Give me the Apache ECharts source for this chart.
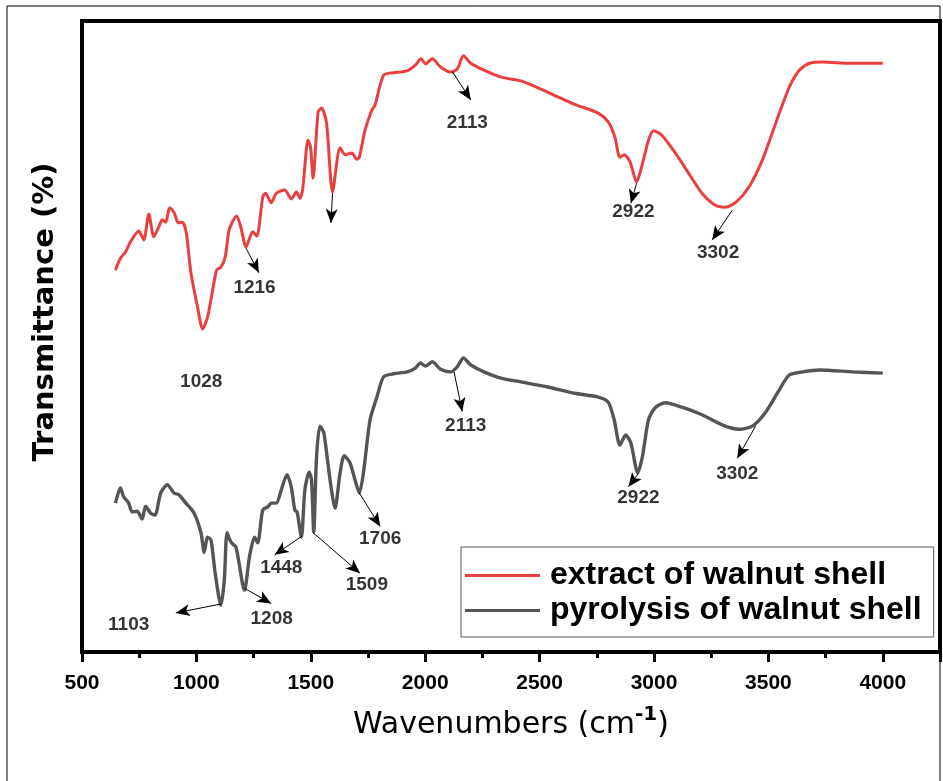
<!DOCTYPE html>
<html>
<head>
<meta charset="utf-8">
<script src="https://cdn.jsdelivr.net/npm/echarts@6/dist/echarts.min.js"></script>
<style>
  html, body { margin: 0; padding: 0; background: #fff; }
  #main { width: 943px; height: 781px; }
</style>
</head>
<body>
<div id="main"></div>
<script>
// 红线：extract of walnut shell
var redWn = [646, 668, 690, 712, 748, 770, 792, 814, 836, 851, 866, 883, 902, 921, 939, 956, 976, 1005, 1027, 1049,
  1088, 1107, 1126, 1144, 1176, 1195, 1217, 1246, 1264, 1290, 1302, 1327, 1349, 1386, 1415, 1437, 1452, 1464, 1488, 1499,
  1510, 1532, 1547, 1569, 1595, 1628, 1650, 1679, 1701, 1712, 1737, 1767, 1781, 1818, 1862, 1921, 1957, 1982, 2001, 2031,
  2067, 2111, 2140, 2167, 2199, 2257, 2331, 2419, 2536, 2653, 2756, 2800, 2829, 2851, 2870, 2895, 2924, 2946, 2976, 2998,
  3034, 3093, 3151, 3210, 3268, 3312, 3356, 3415, 3474, 3532, 3591, 3635, 3679, 3737, 3855, 4000];
var redT = [60.5, 62.4, 63.4, 65.0, 66.7, 65.3, 69.4, 65.8, 67.4, 68.5, 68.1, 70.4, 69.7, 68.0, 68.1, 66.4, 60.1, 54.7, 51.2, 53.1,
  60.5, 61.0, 62.6, 67.0, 69.1, 67.2, 64.2, 66.6, 65.9, 72.1, 72.7, 71.2, 72.7, 73.2, 71.8, 72.9, 71.9, 73.2, 81.1, 80.0,
  75.1, 85.6, 86.2, 83.8, 72.9, 79.9, 78.8, 79.1, 78.1, 78.4, 82.7, 85.9, 86.7, 91.4, 91.8, 92.1, 93.0, 94.0, 93.2, 94.0,
  92.7, 91.9, 92.4, 94.5, 93.3, 92.2, 91.1, 90.5, 88.7, 86.8, 85.4, 84.0, 81.6, 78.4, 78.8, 77.7, 74.5, 76.9, 81.1, 82.6,
  81.9, 79.1, 75.9, 72.7, 70.8, 70.5, 71.2, 73.7, 78.0, 83.8, 89.5, 92.2, 93.3, 93.5, 93.3, 93.3];

// 灰线：pyrolysis of walnut shell
var greyWn = [646, 668, 682, 704, 719, 741, 763, 778, 800, 819, 844, 873, 902, 924, 954, 990, 1020, 1034, 1049, 1064,
  1082, 1107, 1122, 1134, 1151, 1173, 1210, 1232, 1254, 1268, 1290, 1312, 1327, 1349, 1371, 1396, 1415, 1430, 1440, 1459,
  1474, 1493, 1503, 1513, 1525, 1540, 1557, 1584, 1606, 1628, 1646, 1671, 1693, 1712, 1730, 1759, 1789, 1818, 1862, 1921,
  1957, 1979, 2001, 2031, 2067, 2111, 2140, 2167, 2199, 2257, 2331, 2419, 2536, 2653, 2756, 2800, 2826, 2851, 2876, 2899,
  2929, 2949, 2976, 3005, 3049, 3122, 3210, 3298, 3371, 3430, 3488, 3547, 3591, 3650, 3723, 3869, 4000];
var greyT = [23.6, 26.0, 24.6, 23.6, 22.2, 22.3, 21.1, 23.1, 22.0, 21.7, 25.2, 26.5, 25.2, 24.9, 23.6, 22.0, 18.9, 15.8, 18.2, 17.7,
  12.5, 7.4, 11.4, 18.9, 17.4, 16.6, 9.8, 15.1, 18.2, 17.3, 22.5, 23.0, 23.6, 23.6, 25.7, 28.1, 26.1, 22.5, 22.2, 18.2,
  25.7, 28.5, 27.3, 19.0, 30.9, 35.8, 34.7, 27.3, 22.8, 28.4, 31.1, 30.0, 27.3, 25.2, 28.4, 36.8, 40.4, 43.6, 44.1, 44.4,
  45.0, 45.8, 45.3, 46.0, 44.8, 44.4, 45.2, 46.6, 45.5, 44.4, 43.4, 42.8, 42.0, 41.0, 40.4, 39.6, 36.8, 32.8, 34.4, 33.1,
  28.4, 30.9, 36.8, 38.7, 39.5, 38.8, 37.6, 36.0, 35.3, 35.8, 38.0, 41.5, 43.9, 44.4, 44.7, 44.4, 44.2];

// 峰值标注文字 [文字, 波数, 纵坐标]
var peakLabels = [
  ['1216', 1254, 57.7], ['1028', 1021, 42.8], ['2113', 2184, 83.9], ['2922', 2910, 69.8], ['3302', 3280, 63.2],
  ['1103', 704, 4.3], ['1208', 1329, 5.2], ['1448', 1371, 13.3], ['1509', 1745, 10.6], ['1706', 1803, 17.9],
  ['2113', 2177, 35.8], ['2922', 2932, 24.4], ['3302', 3364, 28.3]
];
// 箭头 [起点波数, 起点y, 终点波数, 终点y]
var arrows = [
  [1217, 64.0, 1273, 60.1], [1595, 72.7, 1588, 68.0], [2118, 92.0, 2199, 87.5], [2924, 74.3, 2899, 71.1], [3342, 70.0, 3254, 65.3],
  [1107, 7.6, 910, 6.2], [1210, 10.1, 1327, 7.7], [1459, 18.3, 1342, 15.4], [1510, 18.9, 1715, 12.5], [1712, 25.2, 1803, 19.9],
  [2126, 44.4, 2162, 38.1], [2932, 28.3, 2888, 26.2], [3444, 35.8, 3364, 30.7]
];

var seriesNames = ['extract of walnut shell', 'pyrolysis of walnut shell'];

function zip(xs, ys) {
  var out = [];
  for (var i = 0; i < xs.length; i++) {
    out.push([xs[i], ys[i]]);
  }
  return out;
}

var myChart = echarts.init(document.getElementById('main'), null, { renderer: 'canvas' });

var option = {
  animation: false,
  backgroundColor: '#fff',
  grid: {
    left: 82, right: 3, top: 21, bottom: 129,
    show: true, borderColor: '#000', borderWidth: 4, backgroundColor: 'transparent'
  },
  legend: {
    data: seriesNames,
    orient: 'vertical',
    left: 461, top: 547,
    padding: [11, 12, 9, 4],
    itemGap: 0,
    itemWidth: 75, itemHeight: 3,
    icon: 'rect',
    borderColor: '#555', borderWidth: 1,
    backgroundColor: '#fff',
    textStyle: { fontFamily: 'Liberation Sans', fontWeight: 'bold', fontSize: 32, color: '#000', lineHeight: 35, padding: [0, 0, 0, 5] }
  },
  graphic: [
    { type: 'rect', shape: { x: 7, y: 6, width: 933, height: 790 }, style: { fill: 'none', stroke: '#000', lineWidth: 1 }, z: 100 },
    {
      type: 'text', x: 45, y: 312, rotation: Math.PI / 2,
      style: { text: 'Transmittance (%)', font: 'bold 29px "DejaVu Sans"', fill: '#000', align: 'center', verticalAlign: 'middle' }
    },
    {
      type: 'text', x: 511, y: 725,
      style: {
        text: 'Wavenumbers (cm{sup|-1})', font: '30px "DejaVu Sans"', fill: '#000',
        align: 'center', verticalAlign: 'middle', lineHeight: 40,
        rich: { sup: { font: 'bold 20px "DejaVu Sans"', verticalAlign: 'top', lineHeight: 20, padding: [0, 0, 14, 0] } }
      }
    }
  ],
  xAxis: {
    type: 'value', min: 500, max: 4250, interval: 500,
    axisLine: { onZero: false, lineStyle: { color: '#000', width: 4 } },
    axisTick: { length: 10, lineStyle: { color: '#000', width: 3 } },
    minorTick: { show: true, splitNumber: 2, length: 6, lineStyle: { color: '#000', width: 3 } },
    axisLabel: {
      showMaxLabel: false, margin: 21, color: '#000',
      fontFamily: 'Liberation Sans', fontWeight: 'bold', fontSize: 21,
      formatter: function (v) { return String(v); }
    },
    splitLine: { show: false }
  },
  yAxis: {
    type: 'value', min: 0, max: 100,
    axisLine: { show: false }, axisTick: { show: false }, axisLabel: { show: false }, splitLine: { show: false }
  },
  series: [
    {
      name: seriesNames[0], type: 'line', data: zip(redWn, redT), symbol: 'none', smooth: 0.25,
      lineStyle: { color: '#E8403F', width: 3 }, itemStyle: { color: '#E8403F' }
    },
    {
      name: seriesNames[1], type: 'line', data: zip(greyWn, greyT), symbol: 'none', smooth: 0.25,
      lineStyle: { color: '#555555', width: 3.4 }, itemStyle: { color: '#555555' }
    },
    {
      name: 'notes', type: 'scatter', silent: true, symbolSize: 1,
      itemStyle: { color: 'rgba(0,0,0,0)' },
      data: peakLabels.map(function (p) { return { name: p[0], value: [p[1], p[2]] }; }),
      label: {
        show: true, position: 'inside', formatter: '{b}', color: '#000',
        fontFamily: 'Liberation Sans', fontWeight: 'bold', fontSize: 19
      },
      markLine: {
        silent: true, animation: false,
        symbol: ['none', 'arrow'], symbolSize: [9, 14],
        label: { show: false },
        lineStyle: { color: '#000', width: 1, type: 'solid' },
        data: arrows.map(function (a) { return [{ coord: [a[0], a[1]] }, { coord: [a[2], a[3]] }]; })
      }
    }
  ]
};
myChart.setOption(option);
</script>
</body>
</html>
